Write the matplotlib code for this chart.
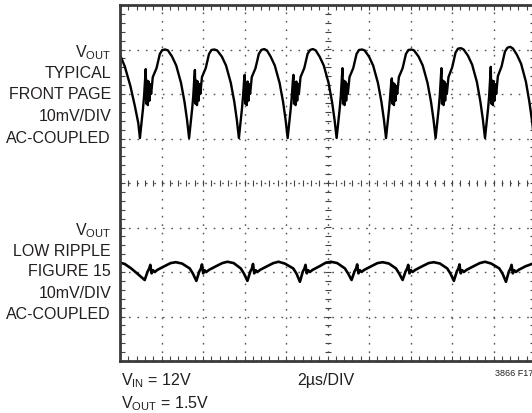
import numpy as np
import matplotlib
matplotlib.use("Agg")
import matplotlib.pyplot as plt
from matplotlib.ticker import MultipleLocator

plt.rcParams['font.family'] = ['Liberation Sans', 'DejaVu Sans']
plt.rcParams['mathtext.fontset'] = 'custom'
plt.rcParams['mathtext.rm'] = 'Liberation Sans'

# time in us (2us/DIV, 10 DIV), amplitude in screen divisions (centre = 0)
top_t = [0.00, 0.23, 0.50, 0.72, 0.88,
         0.96, 1.11, 1.16, 1.21, 1.24, 1.27, 1.31, 1.34, 1.38, 1.42, 1.46, 1.50, 1.58, 1.76, 1.92, 2.04, 2.18, 2.31, 2.51, 2.71, 2.94, 3.11, 3.23,
         3.33, 3.48, 3.53, 3.58, 3.61, 3.64, 3.68, 3.71, 3.75, 3.79, 3.83, 3.87, 3.95, 4.13, 4.29, 4.41, 4.55, 4.68, 4.91, 5.11, 5.34, 5.51, 5.63,
         5.73, 5.88, 5.93, 5.98, 6.01, 6.04, 6.08, 6.11, 6.15, 6.19, 6.23, 6.27, 6.35, 6.53, 6.69, 6.81, 6.95, 7.08, 7.26, 7.46, 7.69, 7.86, 7.98,
         8.08, 8.23, 8.28, 8.33, 8.36, 8.39, 8.43, 8.46, 8.50, 8.54, 8.58, 8.62, 8.70, 8.88, 9.04, 9.16, 9.30, 9.43, 9.62, 9.82, 10.05, 10.22, 10.34,
         10.44, 10.59, 10.64, 10.69, 10.72, 10.75, 10.79, 10.82, 10.86, 10.90, 10.94, 10.98, 11.06, 11.24, 11.40, 11.52, 11.66, 11.79, 12.00, 12.20, 12.43, 12.60, 12.72,
         12.82, 12.97, 13.02, 13.07, 13.10, 13.13, 13.17, 13.20, 13.24, 13.28, 13.32, 13.36, 13.44, 13.62, 13.78, 13.90, 14.04, 14.17, 14.39, 14.59, 14.82, 14.99, 15.11,
         15.21, 15.36, 15.41, 15.46, 15.49, 15.52, 15.56, 15.59, 15.63, 15.67, 15.71, 15.75, 15.83, 16.01, 16.17, 16.29, 16.43, 16.56, 16.77, 16.97, 17.20, 17.37, 17.49,
         17.59, 17.74, 17.79, 17.84, 17.87, 17.90, 17.94, 17.97, 18.01, 18.05, 18.09, 18.13, 18.21, 18.39, 18.55, 18.67, 18.81, 18.94, 19.13, 19.33, 19.56, 19.73, 19.85,
         19.95, 20.00]
top_v = [2.88, 2.62, 2.18, 1.72, 1.35,
         1.01, 1.68, 1.95, 2.35, 2.56, 1.78, 2.30, 1.75, 2.28, 1.85, 2.22, 2.00, 2.38, 2.58, 2.90, 2.99, 3.00, 2.98, 2.84, 2.64, 2.25, 1.82, 1.42,
         1.01, 1.68, 1.95, 2.35, 2.54, 1.78, 2.30, 1.75, 2.28, 1.85, 2.22, 2.00, 2.38, 2.58, 2.90, 2.99, 3.00, 2.98, 2.84, 2.64, 2.25, 1.82, 1.42,
         1.01, 1.68, 1.95, 2.30, 2.43, 1.78, 2.25, 1.75, 2.28, 1.85, 2.22, 2.00, 2.38, 2.58, 2.90, 2.99, 3.01, 2.98, 2.84, 2.64, 2.25, 1.82, 1.42,
         1.01, 1.68, 1.95, 2.30, 2.43, 1.78, 2.25, 1.75, 2.28, 1.85, 2.22, 2.00, 2.38, 2.58, 2.90, 2.99, 3.01, 2.98, 2.84, 2.64, 2.25, 1.82, 1.42,
         1.01, 1.68, 1.95, 2.35, 2.58, 1.78, 2.30, 1.75, 2.28, 1.85, 2.22, 2.00, 2.38, 2.58, 2.90, 2.99, 3.00, 2.98, 2.84, 2.64, 2.25, 1.82, 1.42,
         1.01, 1.68, 1.95, 2.25, 2.35, 1.78, 2.25, 1.75, 2.22, 1.85, 2.18, 2.00, 2.38, 2.58, 2.90, 2.99, 3.00, 2.98, 2.84, 2.64, 2.25, 1.82, 1.42,
         1.01, 1.68, 1.95, 2.35, 2.58, 1.78, 2.30, 1.75, 2.28, 1.85, 2.22, 2.00, 2.38, 2.60, 2.93, 3.02, 3.03, 3.00, 2.86, 2.66, 2.27, 1.82, 1.42,
         1.01, 1.68, 1.95, 2.38, 2.61, 1.78, 2.30, 1.75, 2.28, 1.85, 2.22, 2.00, 2.40, 2.62, 2.95, 3.04, 3.06, 3.02, 2.88, 2.68, 2.28, 1.82, 1.42,
         1.01, 1.35]

low_t = [0.00, 0.23, 0.54, 0.87,
         1.19, 1.33, 1.41, 1.46, 1.52, 1.59, 1.67, 1.81, 2.14, 2.44, 2.69, 2.99, 3.36, 3.52,
         3.68, 3.82, 3.90, 3.95, 4.01, 4.08, 4.16, 4.30, 4.63, 4.93, 5.18, 5.48, 5.82, 5.98,
         6.14, 6.28, 6.36, 6.41, 6.47, 6.54, 6.62, 6.76, 7.09, 7.39, 7.64, 7.94, 8.35, 8.51,
         8.67, 8.81, 8.89, 8.94, 9.00, 9.07, 9.15, 9.29, 9.62, 9.92, 10.17, 10.47, 10.84, 11.00,
         11.16, 11.30, 11.38, 11.43, 11.49, 11.56, 11.64, 11.78, 12.11, 12.41, 12.66, 12.96, 13.30, 13.46,
         13.62, 13.76, 13.84, 13.89, 13.95, 14.02, 14.10, 14.24, 14.57, 14.87, 15.12, 15.42, 15.77, 15.93,
         16.09, 16.23, 16.31, 16.36, 16.42, 16.49, 16.57, 16.71, 17.04, 17.34, 17.59, 17.89, 18.28, 18.44,
         18.60, 18.74, 18.82, 18.87, 18.93, 19.00, 19.08, 19.22, 19.55, 19.85, 20.00]
low_v = [-1.79, -1.82, -1.92, -2.05,
         -2.18, -1.99, -1.92, -1.84, -2.03, -1.96, -2.00, -1.95, -1.87, -1.80, -1.78, -1.81, -1.92, -2.04,
         -2.20, -1.99, -1.92, -1.83, -2.03, -1.96, -2.00, -1.95, -1.87, -1.80, -1.77, -1.80, -1.92, -2.04,
         -2.20, -1.99, -1.92, -1.82, -2.03, -1.96, -2.00, -1.95, -1.87, -1.80, -1.77, -1.81, -1.92, -2.04,
         -2.22, -1.99, -1.92, -1.84, -2.03, -1.96, -2.00, -1.95, -1.87, -1.79, -1.77, -1.80, -1.92, -2.04,
         -2.18, -1.99, -1.92, -1.83, -2.03, -1.96, -2.00, -1.95, -1.87, -1.80, -1.78, -1.81, -1.92, -2.04,
         -2.18, -1.99, -1.92, -1.84, -2.03, -1.96, -2.00, -1.95, -1.87, -1.80, -1.78, -1.81, -1.92, -2.04,
         -2.20, -1.99, -1.92, -1.83, -2.03, -1.96, -2.00, -1.95, -1.87, -1.80, -1.77, -1.81, -1.92, -2.04,
         -2.22, -1.99, -1.92, -1.84, -2.03, -1.96, -2.00, -1.95, -1.87, -1.82, -1.80]

top_labels = ['V$_\\mathrm{OUT}$', 'TYPICAL', 'FRONT PAGE', '10mV/DIV', 'AC-COUPLED']
low_labels = ['V$_\\mathrm{OUT}$', 'LOW RIPPLE', 'FIGURE 15', '10mV/DIV', 'AC-COUPLED']

W, H = 532, 413
ink = '#231f20'
grid_c = '#555555'

fig = plt.figure(figsize=(W / 100, H / 100), dpi=100)
# scope screen runs a few pixels past the right edge of the picture
ax = fig.add_axes([120 / W, 1 - 361 / H, 415 / W, 356 / H])
ax.set_xlim(0, 20)
ax.set_ylim(-4, 4)
ax.xaxis.set_major_locator(MultipleLocator(2))
ax.xaxis.set_minor_locator(MultipleLocator(0.4))
ax.yaxis.set_major_locator(MultipleLocator(1))
ax.yaxis.set_minor_locator(MultipleLocator(0.2))
ax.tick_params(which='both', direction='in', top=True, right=True,
               labelbottom=False, labelleft=False, length=3.5, width=0.8, color='#444444')
ax.grid(True, which='major', color=grid_c, linestyle=(0, (1.2, 4.9)), linewidth=1.0)
for s in ax.spines.values():
    s.set_linewidth(2)
    s.set_color('#3a3a3a')

# centre graticule with small cross ticks
mx = np.arange(0, 20.01, 0.4)
my = np.arange(-4, 4.01, 0.2)
ax.plot(mx, np.zeros_like(mx), ls='none', marker='|', ms=4, mew=0.8, color='#444444')
ax.plot(np.full_like(my, 10), my, ls='none', marker='_', ms=4, mew=0.8, color='#444444')

ax.plot(top_t, top_v, color='black', lw=1.7, solid_joinstyle='round')
ax.plot(low_t, low_v, color='black', lw=1.9, solid_joinstyle='round')


def px(x, y):
    return x / W, 1 - y / H


fs = 11.5
for i, s in enumerate(top_labels):
    base = [57.3, 77.5, 99.3, 121.2, 142.7][i]
    fig.text(*px(111, base), s, ha='right', va='baseline', fontsize=fs, color=ink)
for i, s in enumerate(low_labels):
    base = [235.0, 255.5, 276.5, 297.7, 319.3][i]
    fig.text(*px(111, base), s, ha='right', va='baseline', fontsize=fs, color=ink)

fig.text(*px(121, 385.5), 'V$_\\mathrm{IN}$ = 12V', ha='left', va='baseline', fontsize=fs, color=ink)
fig.text(*px(121, 408), 'V$_\\mathrm{OUT}$ = 1.5V', ha='left', va='baseline', fontsize=fs, color=ink)
fig.text(*px(326, 385.5), '2µs/DIV', ha='center', va='baseline', fontsize=fs, color=ink)
fig.text(*px(495, 376), '3866 F17', ha='left', va='baseline', fontsize=6.5, color=ink)

fig.savefig('out.png', dpi=100)
